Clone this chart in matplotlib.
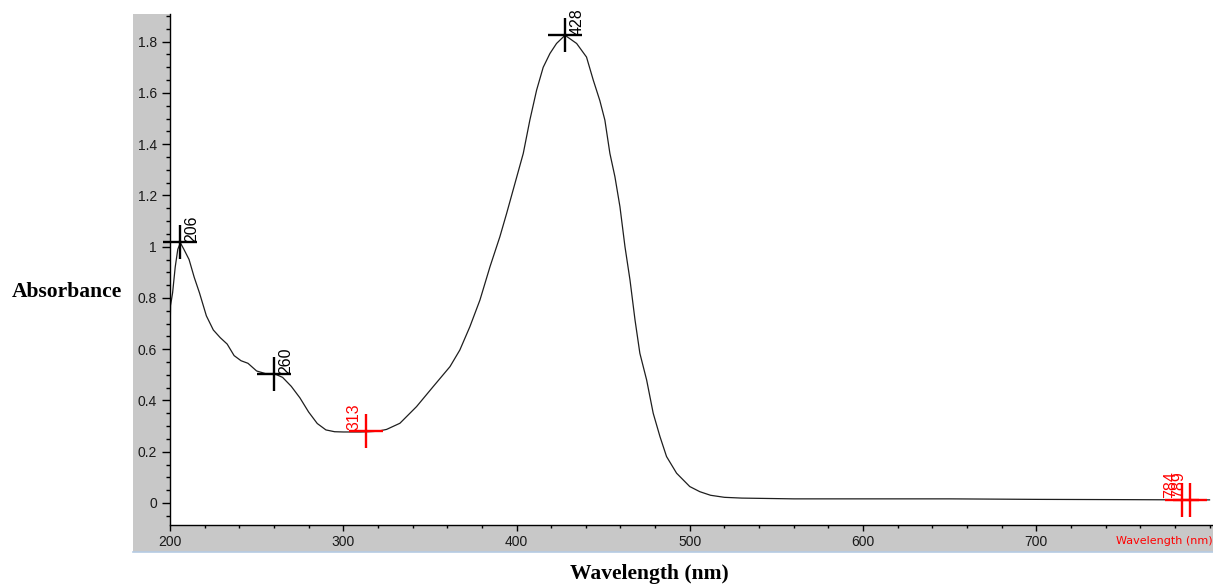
import matplotlib.pyplot as plt
from matplotlib.patches import Rectangle
from matplotlib.ticker import MultipleLocator, FixedLocator

# spectrum
wavelength = [200, 200.3, 201.5, 203, 204.5, 206, 208, 211, 214, 217, 221, 225, 229, 233,
              237, 241, 245, 250, 255, 260, 265, 270, 275, 280, 285, 290, 295, 300, 305,
              310, 315, 320, 325, 332.7, 342.3, 351.9, 361.6, 367.3, 373.1, 378.9, 384.7,
              390.4, 394.3, 399.1, 403.9, 407.7, 411.6, 415.4, 419.3, 423.1, 428, 434.7,
              440.4, 444.3, 448.1, 451, 453.9, 456.8, 459.7, 462.6, 465.5, 468.4, 471.2,
              475.1, 478.9, 482.8, 486.6, 492.4, 500, 505.8, 512, 520, 530, 540,
              560, 600, 650, 700, 750, 789, 800]
absorbance = [0.63, 0.77, 0.82, 0.92, 0.99, 1.015, 0.99, 0.95, 0.88, 0.82, 0.73, 0.675, 0.645, 0.62,
              0.575, 0.555, 0.545, 0.515, 0.505, 0.505, 0.49, 0.455, 0.41, 0.355, 0.31, 0.285, 0.278,
              0.277, 0.277, 0.277, 0.278, 0.28, 0.287, 0.311, 0.376, 0.454, 0.532, 0.597, 0.688, 0.792,
              0.922, 1.039, 1.13, 1.247, 1.364, 1.494, 1.611, 1.70, 1.754, 1.793, 1.825, 1.793,
              1.74, 1.65, 1.57, 1.494, 1.364, 1.273, 1.156, 1.0, 0.87, 0.714, 0.584,
              0.48, 0.35, 0.259, 0.181, 0.116, 0.064, 0.044, 0.03, 0.022, 0.019, 0.018,
              0.016, 0.016, 0.016, 0.014, 0.013, 0.012, 0.012]

peak_nm = [206, 260, 428]
peak_abs = [1.018, 0.505, 1.825]
valley_nm = [313, 784, 789]
valley_abs = [0.28, 0.012, 0.012]

fig = plt.figure(figsize=(12.13, 5.84), dpi=100)

# grey frame behind the plot area
panel = Rectangle((133 / 1213, 32 / 584), 1 - 133 / 1213, (552 - 14) / 584,
                  transform=fig.transFigure, facecolor='#c8c8c8', edgecolor='none', zorder=-10)
fig.add_artist(panel)
fig.add_artist(plt.Line2D([133 / 1213, 1], [32 / 584, 32 / 584], transform=fig.transFigure,
                          color='#b5cbe3', lw=1.2, zorder=-5))

ax = fig.add_axes([170 / 1213, 59 / 584, 1 - 170 / 1213, (525 - 14) / 584])
ax.set_zorder(1)
ax.set_facecolor('white')
ax.plot(wavelength, absorbance, color='#1e1e1e', lw=0.9)

ax.plot(peak_nm, peak_abs, linestyle='none', marker='+', color='black', markersize=25, markeredgewidth=1.7, clip_on=False)
ax.plot(valley_nm, valley_abs, linestyle='none', marker='+', color='red', markersize=25, markeredgewidth=1.7, clip_on=False)

for x, y in zip(peak_nm, peak_abs):
    ax.annotate(str(x), (x, y), xytext=(3, 0), textcoords='offset points', rotation=90,
                ha='left', va='bottom', fontsize=11.5, family='Liberation Sans', color='black',
                annotation_clip=False)
for x, y in zip(valley_nm, valley_abs):
    ax.annotate(str(x), (x, y), xytext=(-3, 1), textcoords='offset points', rotation=90,
                ha='right', va='bottom', fontsize=11.5, family='Liberation Sans', color='red',
                annotation_clip=False)

ax.set_xlim(200, 802)
ax.set_ylim(-0.086, 1.908)
ax.xaxis.set_major_locator(FixedLocator([200, 300, 400, 500, 600, 700]))
ax.xaxis.set_minor_locator(MultipleLocator(20))
ax.yaxis.set_major_locator(FixedLocator([0, 0.2, 0.4, 0.6, 0.8, 1.0, 1.2, 1.4, 1.6, 1.8]))
ax.yaxis.set_minor_locator(MultipleLocator(0.05))
ax.set_yticklabels(['0', '0.2', '0.4', '0.6', '0.8', '1', '1.2', '1.4', '1.6', '1.8'])

for s in ['top', 'right']:
    ax.spines[s].set_visible(False)
ax.spines['left'].set_linewidth(1.0)
ax.spines['bottom'].set_linewidth(1.0)

ax.tick_params(axis='y', which='major', length=5.5, width=1, pad=4, labelsize=10, labelcolor='#1a1a1a')
ax.tick_params(axis='y', which='minor', length=3, width=1)
ax.tick_params(axis='x', which='major', length=4, width=1, pad=3, labelsize=10, labelcolor='#1a1a1a')
ax.tick_params(axis='x', which='minor', length=2.5, width=1)
for lab in ax.get_xticklabels() + ax.get_yticklabels():
    lab.set_family('Liberation Sans')

fig.text(67 / 1213, 0.5, 'Absorbance', ha='center', va='center', fontsize=15.5,
         fontweight='bold', family='Liberation Serif')
fig.text(649 / 1213, 10 / 584, 'Wavelength (nm)', ha='center', va='center', fontsize=15.5,
         fontweight='bold', family='Liberation Serif')
fig.text(1.0, 43 / 584, 'Wavelength (nm)', ha='right', va='center', fontsize=8,
         family='DejaVu Sans', color='red', zorder=5)

fig.savefig('out.png', dpi=100)
